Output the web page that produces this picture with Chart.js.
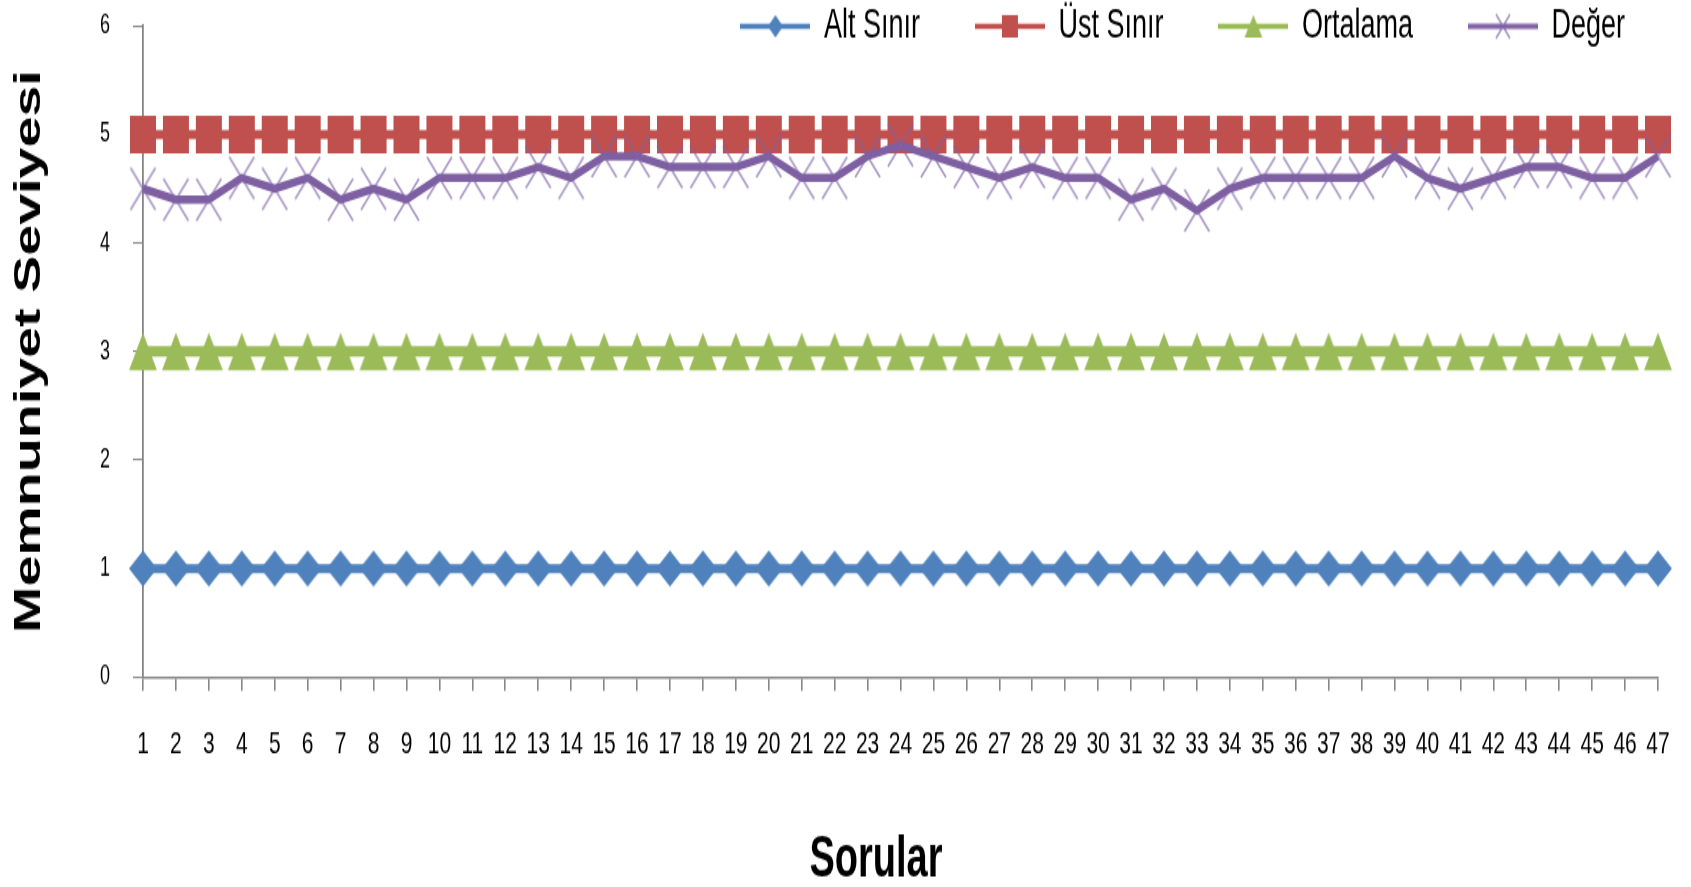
<!DOCTYPE html>
<html>
<head>
<meta charset="utf-8">
<script src="https://cdn.jsdelivr.net/npm/chart.js@4"></script>
<style>
  html, body { margin: 0; padding: 0; background: #fff; overflow: hidden; }
  /* the original is an Excel chart stretched vertically, so the canvas is drawn short and shown tall */
  #chart { display: block; width: 1691px; height: 887px; }
</style>
</head>
<body>
<canvas id="chart" width="1691" height="590" style="width:1691px;height:887px"></canvas>
<script>
// categories (question numbers)
const labels = [
  "1", "2", "3", "4", "5", "6", "7", "8", "9", "10",
  "11", "12", "13", "14", "15", "16", "17", "18", "19", "20",
  "21", "22", "23", "24", "25", "26", "27", "28", "29", "30",
  "31", "32", "33", "34", "35", "36", "37", "38", "39", "40",
  "41", "42", "43", "44", "45", "46", "47",
];

const altSinir = [
  1, 1, 1, 1, 1, 1, 1, 1, 1, 1,
  1, 1, 1, 1, 1, 1, 1, 1, 1, 1,
  1, 1, 1, 1, 1, 1, 1, 1, 1, 1,
  1, 1, 1, 1, 1, 1, 1, 1, 1, 1,
  1, 1, 1, 1, 1, 1, 1,
];
const ustSinir = [
  5, 5, 5, 5, 5, 5, 5, 5, 5, 5,
  5, 5, 5, 5, 5, 5, 5, 5, 5, 5,
  5, 5, 5, 5, 5, 5, 5, 5, 5, 5,
  5, 5, 5, 5, 5, 5, 5, 5, 5, 5,
  5, 5, 5, 5, 5, 5, 5,
];
const ortalama = [
  3, 3, 3, 3, 3, 3, 3, 3, 3, 3,
  3, 3, 3, 3, 3, 3, 3, 3, 3, 3,
  3, 3, 3, 3, 3, 3, 3, 3, 3, 3,
  3, 3, 3, 3, 3, 3, 3, 3, 3, 3,
  3, 3, 3, 3, 3, 3, 3,
];
const deger = [
  4.5, 4.4, 4.4, 4.6, 4.5, 4.6, 4.4, 4.5, 4.4, 4.6,
  4.6, 4.6, 4.7, 4.6, 4.8, 4.8, 4.7, 4.7, 4.7, 4.8,
  4.6, 4.6, 4.8, 4.9, 4.8, 4.7, 4.6, 4.7, 4.6, 4.6,
  4.4, 4.5, 4.3, 4.5, 4.6, 4.6, 4.6, 4.6, 4.8, 4.6,
  4.5, 4.6, 4.7, 4.7, 4.6, 4.6, 4.8,
];

const yTicks = [0, 1, 2, 3, 4, 5, 6];

const FONT = '"Liberation Sans", Arial, sans-serif';

const BLUE = "#4F81BD";
const RED = "#C0504D";
const GREEN = "#9BBB59";
const PURPLE = "#7E5FA1";
const PURPLE_X = "rgba(128, 100, 170, 0.7)";
const AXIS = "#868686";

// draws one marker shape centred in a small canvas, optionally with a line through it
function makeMark(kind, w, h, color, lineLen, lineW, lineColor) {
  const cw = Math.max(w + 4, lineLen || 0);
  const ch = h + 4;
  const c = document.createElement("canvas");
  c.width = cw;
  c.height = ch;
  const g = c.getContext("2d");
  const cx = cw / 2;
  const cy = ch / 2;
  if (lineLen) {
    g.strokeStyle = lineColor;
    g.lineWidth = lineW;
    g.beginPath();
    g.moveTo(0, cy);
    g.lineTo(cw, cy);
    g.stroke();
  }
  g.fillStyle = color;
  g.strokeStyle = color;
  g.beginPath();
  if (kind === "diamond") {
    g.moveTo(cx, cy - h / 2);
    g.lineTo(cx + w / 2, cy);
    g.lineTo(cx, cy + h / 2);
    g.lineTo(cx - w / 2, cy);
    g.closePath();
    g.fill();
  } else if (kind === "square") {
    g.rect(cx - w / 2, cy - h / 2, w, h);
    g.fill();
  } else if (kind === "triangle") {
    g.moveTo(cx, cy - h / 2);
    g.lineTo(cx + w / 2, cy + h / 2);
    g.lineTo(cx - w / 2, cy + h / 2);
    g.closePath();
    g.fill();
  } else if (kind === "cross") {
    g.lineWidth = 1.8;
    g.moveTo(cx - w / 2, cy - h / 2);
    g.lineTo(cx + w / 2, cy + h / 2);
    g.moveTo(cx + w / 2, cy - h / 2);
    g.lineTo(cx - w / 2, cy + h / 2);
    g.stroke();
  }
  return c;
}

const pointMarks = [
  makeMark("diamond", 28, 24, BLUE),
  makeMark("square", 26, 25, RED),
  makeMark("triangle", 28, 25, GREEN),
  makeMark("cross", 25, 28, PURPLE_X),
];
const legendMarks = [
  makeMark("diamond", 15, 15, BLUE, 70, 3.3, BLUE),
  makeMark("square", 16, 15, RED, 70, 3.3, RED),
  makeMark("triangle", 18, 15, GREEN, 70, 3.3, GREEN),
  makeMark("cross", 14, 16, PURPLE_X, 70, 3.3, PURPLE),
];

// legend takes (almost) no layout room; put it in the top strip like the original
const legendPlacer = {
  id: "legendPlacer",
  afterLayout(chart) {
    const lg = chart.legend;
    if (!lg) return;
    lg.left = 0;
    lg.right = 1680;
    lg.width = 1680;
    lg.top = -51;
    lg.bottom = 60;
    lg.height = 111;
  },
};

// x axis caption, sits a little left of the plot centre in the original
const xCaption = {
  id: "xCaption",
  afterDraw(chart) {
    const c = chart.ctx;
    c.save();
    c.font = "bold 38px " + FONT;
    c.fillStyle = "#000";
    c.textAlign = "center";
    c.textBaseline = "middle";
    c.fillText("Sorular", 876, 573);
    c.restore();
  },
};

const ctx = document.getElementById("chart").getContext("2d");

const data = {
  labels: labels,
  datasets: [
    {
      label: "Alt Sınır",
      data: altSinir,
      borderColor: BLUE,
      backgroundColor: BLUE,
      borderWidth: 6,
      pointStyle: pointMarks[0],
      pointRadius: 14,
      order: 3,
    },
    {
      label: "Üst Sınır",
      data: ustSinir,
      borderColor: RED,
      backgroundColor: RED,
      borderWidth: 6,
      pointStyle: pointMarks[1],
      pointRadius: 14,
      order: 2,
    },
    {
      label: "Ortalama",
      data: ortalama,
      borderColor: GREEN,
      backgroundColor: GREEN,
      borderWidth: 7,
      pointStyle: pointMarks[2],
      pointRadius: 14,
      order: 1,
    },
    {
      label: "Değer",
      data: deger,
      borderColor: PURPLE,
      backgroundColor: PURPLE,
      borderWidth: 5.5,
      borderJoinStyle: "round",
      pointStyle: pointMarks[3],
      pointRadius: 14,
      order: 0,
    },
  ],
};

const config = {
  type: "line",
  data: data,
  options: {
    responsive: false,
    animation: false,
    devicePixelRatio: 1,
    clip: false,
    elements: { line: { tension: 0 } },
    layout: { autoPadding: false, padding: { top: 16.3, right: 33, left: 0, bottom: 0 } },
    plugins: {
      tooltip: { enabled: false },
      legend: {
        position: "top",
        align: "end",
        maxHeight: 1,
        labels: {
          usePointStyle: true,
          pointStyleWidth: 70,
          boxHeight: 27,
          padding: 55,
          color: "#000",
          font: { family: FONT, size: 27 },
          sort: (a, b) => a.datasetIndex - b.datasetIndex,
          generateLabels(chart) {
            const items = Chart.defaults.plugins.legend.labels.generateLabels(chart);
            items.forEach((it) => { it.pointStyle = legendMarks[it.datasetIndex]; });
            return items;
          },
        },
      },
    },
    scales: {
      x: {
        type: "category",
        offset: false,
        grid: {
          drawOnChartArea: false,
          drawTicks: true,
          tickLength: 9.3,
          color: AXIS,
          lineWidth: 1.6,
        },
        border: { display: true, color: AXIS, width: 1.4 },
        ticks: {
          autoSkip: false,
          maxRotation: 0,
          minRotation: 0,
          padding: 23.3,
          color: "#000",
          font: { family: FONT, size: 21 },
        },
        title: { display: false },
        afterFit(scale) {
          scale.height = 139.7;
          scale.paddingLeft = 0;
          scale.paddingRight = 0;
        },
      },
      y: {
        min: yTicks[0],
        max: yTicks[yTicks.length - 1],
        afterBuildTicks(scale) { scale.ticks = yTicks.map((v) => ({ value: v })); },
        grid: {
          drawOnChartArea: false,
          drawTicks: true,
          tickLength: 10,
          color: AXIS,
          lineWidth: 1.1,
        },
        border: { display: true, color: AXIS, width: 1.8 },
        ticks: {
          padding: 23,
          color: "#000",
          font: { family: FONT, size: 18 },
        },
        title: {
          display: true,
          text: "Memnuniyet Seviyesi",
          color: "#000",
          font: { family: FONT, size: 37, weight: "bold" },
          padding: { top: 8, bottom: 0 },
        },
        afterFit(scale) {
          scale.width = 143;
          scale.paddingTop = 0;
          scale.paddingBottom = 0;
        },
      },
    },
  },
  plugins: [legendPlacer, xCaption],
};

new Chart(ctx, config);
</script>
</body>
</html>
